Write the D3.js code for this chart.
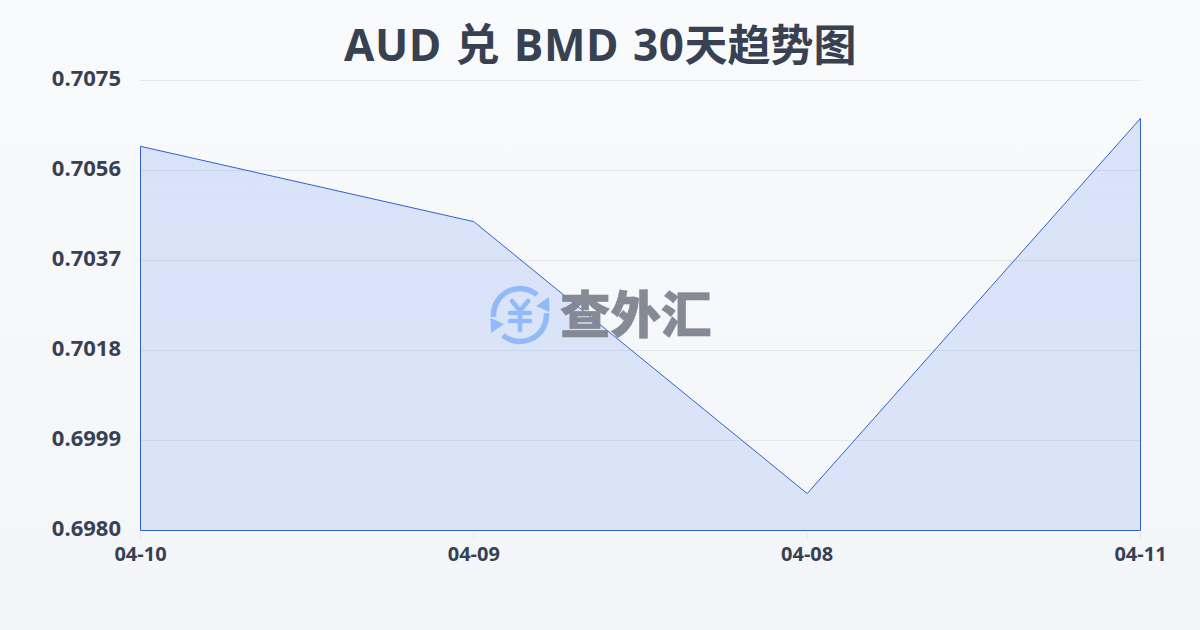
<!DOCTYPE html>
<html><head><meta charset="utf-8">
<script src="https://cdn.jsdelivr.net/npm/d3@7/dist/d3.min.js"></script>
<style>html,body{margin:0;padding:0;width:1200px;height:630px;overflow:hidden}</style>
</head><body><svg id="c" width="1200" height="630"></svg>
<script>
const titleLatin = "AUD 兑 BMD 30";
const titleCjk = "天趋势图";
const categories = ["04-10","04-09","04-08","04-11"];
const values = [0.70611,0.70452,0.69878,0.70670];
const yTicks = [0.7075,0.7056,0.7037,0.7018,0.6999,0.6980];
const watermark = "查外汇";
const font = "'Open Sans','Noto Sans CJK SC',sans-serif";
const cjk = "'Noto Sans CJK SC',sans-serif";

const svg = d3.select("#c");
const defs = svg.append("defs");
const bg = defs.append("linearGradient").attr("id","bg").attr("x1",0).attr("y1",0).attr("x2",0).attr("y2",1);
bg.append("stop").attr("offset","0%").attr("stop-color","#f9fafc");
bg.append("stop").attr("offset","100%").attr("stop-color","#f3f5f8");
svg.append("rect").attr("width",1200).attr("height",630).attr("fill","url(#bg)");

const x = d3.scalePoint().domain(categories).range([140.5,1140.5]);
const y = d3.scaleLinear().domain([0.698,0.7075]).range([530.5,80.5]);

const title = svg.append("text").attr("x",344).attr("y",61)
  .attr("font-family",font).attr("font-weight",700).attr("fill","#374151");
title.append("tspan").attr("font-size",44).attr("letter-spacing",0.6).attr("word-spacing",1.6).text(titleLatin);
title.append("tspan").attr("font-size",43).text(titleCjk);

svg.append("g").selectAll("line").data(yTicks.slice(0,-1)).join("line")
  .attr("x1",140).attr("x2",1140).attr("y1",d=>Math.round(y(d)-0.5)+0.5).attr("y2",d=>Math.round(y(d)-0.5)+0.5)
  .attr("stroke","#e5e7eb").attr("stroke-width",1);
svg.append("g").selectAll("line").data(categories).join("line")
  .attr("x1",d=>x(d)).attr("x2",d=>x(d)).attr("y1",530).attr("y2",541)
  .attr("stroke","#e5e7eb").attr("stroke-width",1);

const area = d3.area().x((d,i)=>x(categories[i])).y0(y(0.698)).y1(d=>y(d));
const fillG = defs.append("linearGradient").attr("id","af").attr("x1",0).attr("y1",0).attr("x2",0).attr("y2",1);
fillG.append("stop").attr("offset","0%").attr("stop-color","#2563eb").attr("stop-opacity",0.15);
fillG.append("stop").attr("offset","100%").attr("stop-color","#2563eb").attr("stop-opacity",0.12);
svg.append("path").datum(values).attr("d",area).attr("fill","url(#af)")
  .attr("stroke","#2f62c9").attr("stroke-width",1).attr("stroke-linejoin","miter");

svg.append("g").selectAll("text").data(yTicks).join("text")
  .attr("x",121).attr("y",d=>y(d)-2).attr("dy","0.36em").attr("text-anchor","end")
  .attr("font-family",font).attr("font-weight",700).attr("font-size",22).attr("fill","#374151")
  .text(d=>d.toFixed(4));
svg.append("g").selectAll("text").data(categories).join("text")
  .attr("x",d=>x(d)).attr("y",561).attr("text-anchor","middle")
  .attr("font-family",font).attr("font-weight",700).attr("font-size",20).attr("fill","#374151")
  .text(d=>d);

// watermark
const w = svg.append("g").attr("opacity",0.95);
const ic = w.append("g").attr("transform","translate(520,315)").attr("fill","none").attr("stroke","#8fb8f8").attr("stroke-linecap","round");
const arc = d3.arc().innerRadius(26.5).outerRadius(26.5);
ic.append("path").attr("d",arc({startAngle:-1.64,endAngle:0.7})).attr("stroke-width",5.5);
ic.append("path").attr("d",arc({startAngle:1.5,endAngle:3.84})).attr("stroke-width",5.5);
ic.append("path").attr("d","M29 -18 L29.5 -3 L16 -9 Z").attr("fill","#8fb8f8").attr("stroke","none");
ic.append("path").attr("d","M-29 18 L-29.5 3 L-16 9 Z").attr("fill","#8fb8f8").attr("stroke","none");
ic.append("path").attr("d","M-8 -14 L0 -4 L8 -14 M0 -4 L0 15 M-10 -2 L10 -2 M-10 6 L10 6").attr("stroke-width",4.5);
w.append("text").attr("x",560).attr("y",333).attr("font-family",cjk)
  .attr("font-weight",900).attr("font-size",50.5).attr("fill","#7f8590").attr("stroke","#7f8590").attr("stroke-width",0.6).text(watermark);
</script></body></html>
